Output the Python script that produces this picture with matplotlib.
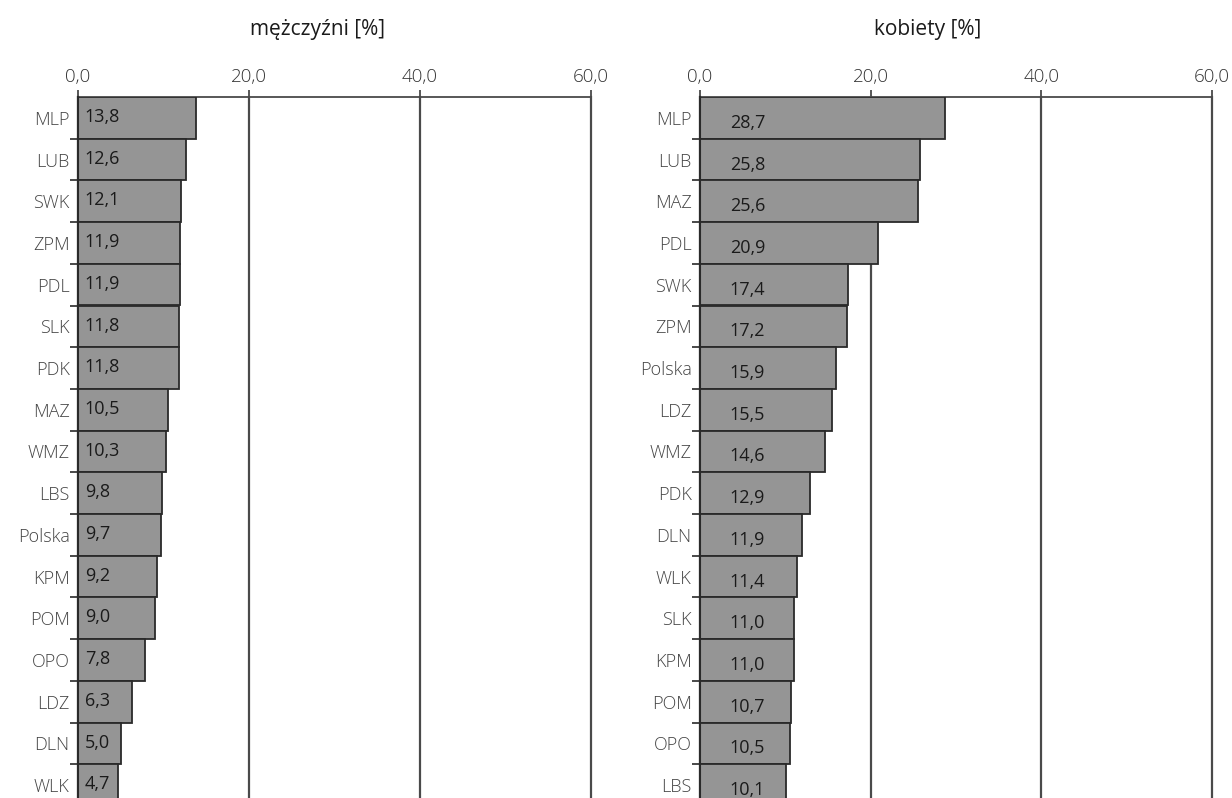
import matplotlib.pyplot as plt
import numpy as np

plt.rcParams["font.family"] = ["Open Sans", "DejaVu Sans"]

men_regions = ["MLP", "LUB", "SWK", "ZPM", "PDL", "SLK", "PDK", "MAZ", "WMZ",
               "LBS", "Polska", "KPM", "POM", "OPO", "LDZ", "DLN", "WLK"]
men_values = [13.8, 12.6, 12.1, 11.9, 11.9, 11.8, 11.8, 10.5, 10.3,
              9.8, 9.7, 9.2, 9.0, 7.8, 6.3, 5.0, 4.7]

women_regions = ["MLP", "LUB", "MAZ", "PDL", "SWK", "ZPM", "Polska", "LDZ", "WMZ",
                 "PDK", "DLN", "WLK", "SLK", "KPM", "POM", "OPO", "LBS"]
women_values = [28.7, 25.8, 25.6, 20.9, 17.4, 17.2, 15.9, 15.5, 14.6,
                12.9, 11.9, 11.4, 11.0, 11.0, 10.7, 10.5, 10.1]

ticks = [0, 20, 40, 60]
titles = ["mężczyźni [%]", "kobiety [%]"]

fig = plt.figure(figsize=(12.32, 7.98), dpi=100)
ax_m = fig.add_axes([78 / 1232, 0, 513 / 1232, 701 / 798])
ax_w = fig.add_axes([700 / 1232, 0, 512 / 1232, 701 / 798])

bar_color = "#959595"
edge_color = "#2a2a2a"
grid_color = "#4a4a4a"


def draw(ax, regions, values, label_dx, label_dy):
    y = np.arange(len(regions))
    ax.barh(y, values, height=1.0, color=bar_color, edgecolor=edge_color,
            linewidth=1.3, zorder=3)
    for yi, v in zip(y, values):
        ax.text(label_dx, yi + label_dy, f"{v:.1f}".replace(".", ","),
                ha="left", va="center", fontsize=13, color="#1a1a1a", zorder=4)
    ax.set_xlim(0, 60)
    # last bar is cut by the lower figure edge, as in the source
    ax.set_ylim(-0.5 + 701 / 41.7, -0.5)
    ax.xaxis.tick_top()
    ax.set_xticks(ticks)
    ax.set_xticklabels([f"{t:.1f}".replace(".", ",") for t in ticks],
                       fontsize=13.5, color="#333333", fontweight="light")
    ax.tick_params(axis="x", length=5, width=1.3, color=grid_color, pad=3)
    ax.set_yticks(y)
    ax.set_yticklabels(regions, fontsize=13, color="#444444", fontweight="light")
    ax.tick_params(axis="y", length=0, pad=6)
    ax.set_yticks(y[:-1] + 0.5, minor=True)
    ax.tick_params(axis="y", which="minor", length=6, width=1.2, color=edge_color)
    ax.grid(axis="x", color=grid_color, linewidth=1.6, zorder=1)
    for gl in ax.get_xgridlines():
        gl.set_clip_on(False)
    ax.set_axisbelow(True)
    for s in ["right", "bottom"]:
        ax.spines[s].set_visible(False)
    ax.spines["left"].set_color(edge_color)
    ax.spines["left"].set_linewidth(1.5)
    ax.spines["top"].set_color(grid_color)
    ax.spines["top"].set_linewidth(1.3)
    ax.spines["left"].set_zorder(5)


draw(ax_m, men_regions, men_values, 0.8, -0.02)
draw(ax_w, women_regions, women_values, 3.5, 0.12)

fig.text(318 / 1232, 1 - 30 / 798, titles[0], ha="center", va="center",
         fontsize=15, color="#1a1a1a")
fig.text(928 / 1232, 1 - 30 / 798, titles[1], ha="center", va="center",
         fontsize=15, color="#1a1a1a")

fig.savefig("out.png", dpi=100)
